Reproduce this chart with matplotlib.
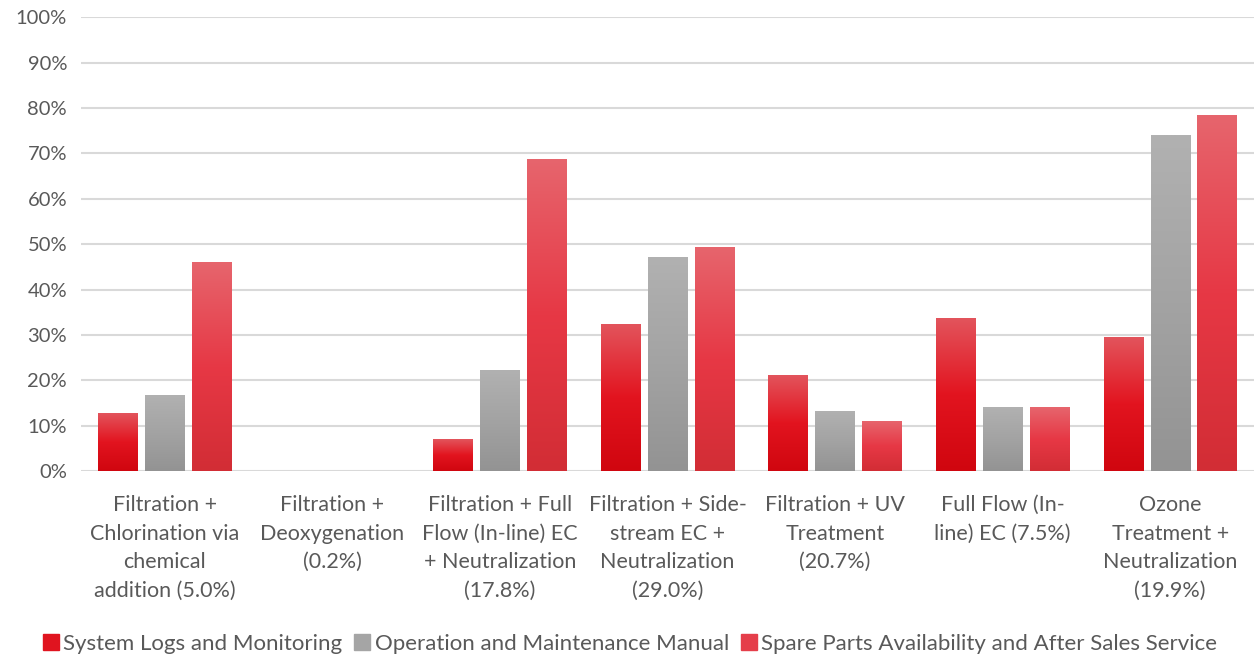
import matplotlib.pyplot as plt
import numpy as np
from matplotlib.colors import LinearSegmentedColormap
from matplotlib.lines import Line2D

plt.rcParams['font.family'] = ['Lato', 'DejaVu Sans']

categories = ['Filtration +\nChlorination via\nchemical\naddition (5.0%)',
              'Filtration +\nDeoxygenation\n(0.2%)',
              'Filtration + Full\nFlow (In-line) EC\n+ Neutralization\n(17.8%)',
              'Filtration + Side-\nstream EC +\nNeutralization\n(29.0%)',
              'Filtration + UV\nTreatment\n(20.7%)',
              'Full Flow (In-\nline) EC (7.5%)',
              'Ozone\nTreatment +\nNeutralization\n(19.9%)']
series_names = ['System Logs and Monitoring',
                'Operation and Maintenance Manual',
                'Spare Parts Availability and After Sales Service']
logs = [12.6, 0, 7.0, 32.2, 21.1, 33.5, 29.3]
manual = [16.7, 0, 22.2, 47.1, 13.0, 13.9, 74.0]
spare = [46.0, 0, 68.7, 49.3, 11.0, 13.9, 78.2]

# gradient colours, bottom -> middle -> top
grads = [['#d0060f', '#e2141f', '#e3545c'],
         ['#939393', '#a3a3a3', '#b1b1b1'],
         ['#d22d35', '#e73845', '#e6656d']]
solid = ['#e0141f', '#a5a5a5', '#e53e4a']

fig = plt.figure(figsize=(12.57, 6.58), dpi=100)
ax = fig.add_axes([0.0644, 0.284, 0.9332, 0.69])

x = np.arange(len(categories))
w = 0.235
step = 0.28
grad = np.linspace(0, 1, 256).reshape(-1, 1)
for i, vals in enumerate([logs, manual, spare]):
    cmap = LinearSegmentedColormap.from_list('g%d' % i, grads[i])
    pos = x + (i - 1) * step
    bars = ax.bar(pos, vals, w, color=solid[i], zorder=2, label=series_names[i])
    for b in bars:
        h = b.get_height()
        if h <= 0:
            continue
        x0 = b.get_x()
        ax.imshow(grad, cmap=cmap, origin='lower', aspect='auto',
                  extent=(x0, x0 + b.get_width(), 0, h), zorder=3)

ax.set_xlim(-0.5, len(categories) - 0.5)
ax.set_ylim(0, 100)
ax.set_yticks(np.arange(0, 101, 10))
ax.set_yticklabels(['%d%%' % v for v in range(0, 101, 10)])
ax.set_xticks(x)
ax.set_xticklabels(categories, linespacing=1.55, va='top', fontsize=15.5)
ax.tick_params(axis='both', length=0, labelcolor='#595959')
ax.tick_params(axis='y', labelsize=14.5, pad=10)
ax.tick_params(axis='x', pad=17)
ax.grid(axis='y', color='#d9d9d9', linewidth=1.5, zorder=0)
ax.set_axisbelow(True)
for s in ax.spines.values():
    s.set_visible(False)

handles = [Line2D([], [], marker='s', linestyle='none', markersize=11,
                  markerfacecolor=c, markeredgecolor=c) for c in solid]
fig.legend(handles, series_names, loc='center', bbox_to_anchor=(0.5, 0.022),
           ncol=3, frameon=False, fontsize=16, labelcolor='#595959',
           handletextpad=0.05, columnspacing=0.4, handlelength=1.0)

plt.savefig('out.png', dpi=100)
